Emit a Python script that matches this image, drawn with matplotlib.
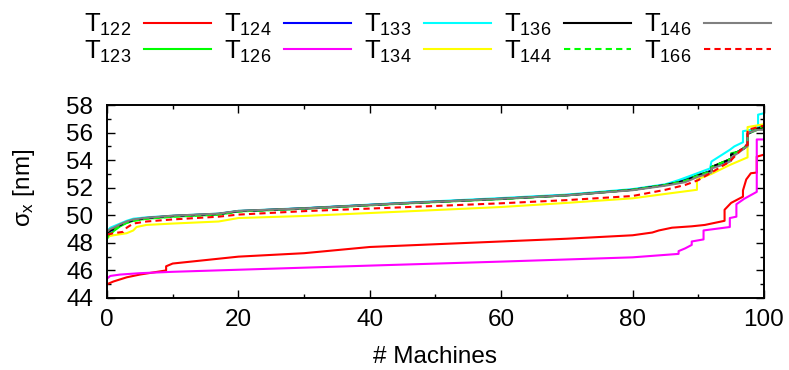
import matplotlib
matplotlib.use("Agg")
import matplotlib.pyplot as plt
from matplotlib.ticker import MultipleLocator

plt.rcParams["font.family"] = ["Liberation Sans", "DejaVu Sans"]
plt.rcParams["mathtext.fontset"] = "custom"
plt.rcParams["mathtext.rm"] = "Liberation Sans"
plt.rcParams["mathtext.it"] = "Liberation Sans"

# sorted sigma_x per machine
x_122 = [0, 1, 3, 5, 7, 9, 9, 10, 15, 20, 30, 40, 50, 60, 70, 80, 83, 84, 86, 89, 91,
         93, 94, 94, 95, 96.8, 96.8, 97.3, 98, 98.9, 98.9, 100]
y_122 = [45.0, 45.2, 45.5, 45.7, 45.85, 46.0, 46.3, 46.5, 46.75, 47.0, 47.25, 47.7, 47.9,
         48.1, 48.3, 48.55, 48.75, 48.9, 49.1, 49.2, 49.3, 49.5, 49.6, 50.4, 50.9, 51.35,
         51.8, 52.6, 53.05, 53.1, 54.25, 54.4]

x_126 = [0, 0.5, 2, 5, 10, 20, 40, 60, 80, 87, 87, 88, 89, 89, 90.8, 90.8, 94.8, 94.8,
         95.8, 95.8, 97, 98.9, 98.9, 100]
y_126 = [45.4, 45.6, 45.7, 45.8, 45.9, 46.05, 46.35, 46.64, 46.95, 47.2, 47.4, 47.6, 47.85,
         48.1, 48.25, 48.9, 49.15, 49.8, 49.9, 50.8, 51.2, 51.7, 55.5, 55.5]

x_134 = [0, 1, 3, 4, 4.5, 6, 10, 17, 20, 30, 45, 60, 70, 80, 85, 89.8, 89.8, 92, 94.8,
         97, 97.5, 97.5, 100]
y_134 = [48.45, 48.55, 48.7, 48.9, 49.15, 49.3, 49.4, 49.55, 49.8, 49.95, 50.27, 50.6,
         50.9, 51.23, 51.55, 51.85, 52.6, 53.0, 53.65, 54.1, 54.2, 56.4, 56.6]

x_166 = [0, 1, 2.5, 3, 4, 6, 10, 17, 20, 30, 45, 60, 70, 80, 85, 88, 90, 92, 94.8, 97,
         97.5, 97.5, 100]
y_166 = [48.6, 48.7, 48.8, 49.1, 49.4, 49.55, 49.7, 49.9, 50.05, 50.3, 50.58, 50.87, 51.1,
         51.4, 51.85, 52.2, 52.55, 53.1, 53.9, 55.0, 55.1, 56.2, 56.5]

x_133 = [0, 0.5, 1, 2, 3, 4, 6, 10, 17, 20, 30, 45, 60, 70, 80, 85, 87, 89, 91.8, 92,
         94.8, 95.5, 96.8, 96.8, 98, 99.1, 99.1, 100]
y_133 = [48.8, 49.1, 49.2, 49.4, 49.6, 49.75, 49.85, 49.97, 50.12, 50.32, 50.52, 50.9,
         51.25, 51.5, 51.9, 52.25, 52.55, 52.9, 53.4, 53.9, 54.75, 55.0, 55.3, 56.1, 56.2,
         56.3, 57.3, 57.4]

x_top = [0, 0.5, 1, 2, 3, 4, 6, 10, 17, 20, 30, 45, 60, 70, 80, 85, 88, 90, 92, 92, 94,
         95, 95, 96, 97, 97.5, 97.5, 99, 100]
y_123 = [48.3, 48.6, 48.85, 49.2, 49.45, 49.6, 49.75, 49.9, 50.05, 50.28, 50.48, 50.85,
         51.18, 51.45, 51.85, 52.2, 52.6, 52.95, 53.2, 53.5, 53.9, 54.1, 54.5, 54.6, 54.9,
         55.1, 55.9, 56.2, 56.4]
y_124 = [48.6, 48.85, 49.0, 49.3, 49.5, 49.65, 49.8, 49.95, 50.1, 50.3, 50.5, 50.88, 51.2,
         51.47, 51.85, 52.2, 52.55, 52.9, 53.25, 53.5, 53.85, 54.1, 54.4, 54.6, 54.9, 55.2,
         55.9, 56.3, 56.5]
y_136 = [48.7, 48.9, 49.0, 49.3, 49.5, 49.65, 49.8, 49.95, 50.1, 50.3, 50.5, 50.87, 51.2,
         51.45, 51.85, 52.2, 52.5, 52.9, 53.2, 53.5, 53.9, 54.1, 54.4, 54.6, 54.85, 55.1,
         55.9, 56.3, 56.4]
y_144 = [48.4, 48.7, 48.9, 49.25, 49.45, 49.6, 49.75, 49.9, 50.05, 50.28, 50.48, 50.85,
         51.18, 51.45, 51.85, 52.2, 52.5, 52.9, 53.2, 53.5, 53.9, 54.1, 54.4, 54.6, 54.9,
         55.1, 55.9, 56.3, 56.5]
y_146 = [48.8, 49.0, 49.1, 49.35, 49.55, 49.7, 49.82, 49.97, 50.12, 50.32, 50.5, 50.87,
         51.2, 51.45, 51.82, 52.15, 52.4, 52.8, 53.1, 53.4, 53.7, 53.95, 54.2, 54.5, 54.85,
         55.0, 55.95, 56.2, 56.2]

series = [
    ("122", x_122, y_122, "#ff0000", "-"),
    ("123", x_top, y_123, "#00ff00", "-"),
    ("124", x_top, y_124, "#0000ff", "-"),
    ("126", x_126, y_126, "#ff00ff", "-"),
    ("133", x_133, y_133, "#00ffff", "-"),
    ("134", x_134, y_134, "#ffff00", "-"),
    ("136", x_top, y_136, "#000000", "-"),
    ("144", x_top, y_144, "#00ff00", (0, (3, 2))),
    ("146", x_top, y_146, "#808080", "-"),
    ("166", x_166, y_166, "#ff0000", (0, (3, 2))),
]

fig = plt.figure(figsize=(7.89, 3.70), dpi=100)
ax = fig.add_axes([0.1356, 0.1946, 0.8327, 0.5216])

for name, xs, ys, color, ls in series:
    ax.plot(xs, ys, color=color, linestyle=ls, linewidth=1.5,
            label=r"$\mathrm{T}_{%s}$" % name)

ax.set_xlim(0, 100)
ax.set_ylim(44, 58)
ax.xaxis.set_major_locator(MultipleLocator(20))
ax.xaxis.set_minor_locator(MultipleLocator(10))
ax.yaxis.set_major_locator(MultipleLocator(2))
ax.yaxis.set_minor_locator(MultipleLocator(1))
ax.tick_params(which="both", direction="in", top=True, right=True, labelsize=17.5, width=1)
ax.tick_params(axis="y", which="major", length=5.5, pad=10)
ax.tick_params(axis="x", which="major", length=5.5, pad=8)
ax.tick_params(which="minor", length=3)
for sp in ax.spines.values():
    sp.set_linewidth(1.4)

ax.set_xlabel("# Machines", fontsize=17.5)
ax.xaxis.set_label_coords(0.499, -0.306)
ax.xaxis.label.set_va("center")
ax.set_ylabel(r"$\sigma_{x}$ [nm]", fontsize=17.5)
ax.yaxis.set_label_coords(-0.126, 0.57)
ax.yaxis.label.set_va("center")

fig.legend(loc="upper center", bbox_to_anchor=(0.542, 0.995), ncol=5, frameon=False,
           markerfirst=False, fontsize=18.5, handlelength=2.6, handletextpad=0.5,
           columnspacing=0.5, labelspacing=0.0, borderaxespad=0)

fig.savefig("out.png", dpi=100)
